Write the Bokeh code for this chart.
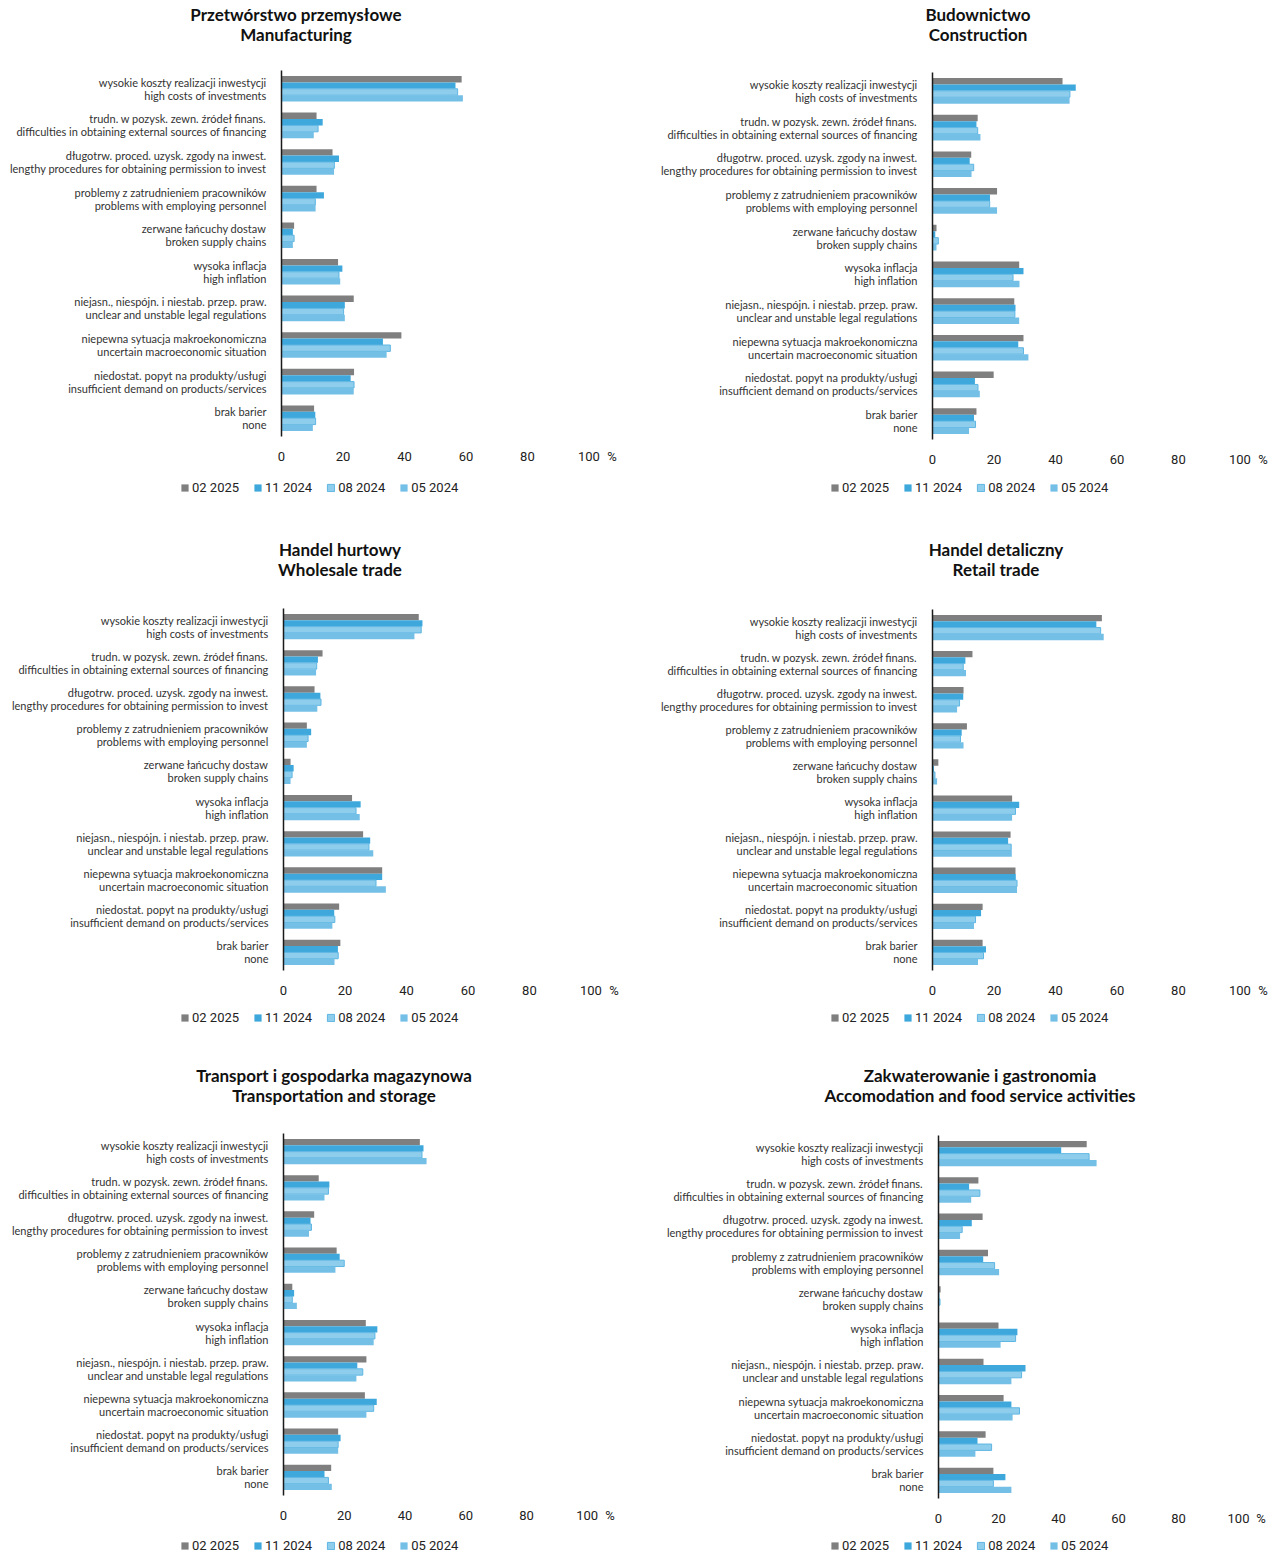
from bokeh.plotting import figure
from bokeh.models import FactorRange, Range1d, Legend, LegendItem, ColumnDataSource, FixedTicker, Div
from bokeh.transform import dodge
from bokeh.layouts import column, row
from bokeh.embed import file_html
from bokeh.resources import INLINE

CATEGORIES = [
    "wysokie koszty realizacji inwestycji\nhigh costs of investments",
    "trudn. w pozysk. zewn. źródeł finans.\ndifficulties in obtaining external sources of financing",
    "długotrw. proced. uzysk. zgody na inwest.\nlengthy procedures for obtaining permission to invest",
    "problemy z zatrudnieniem pracowników\nproblems with employing personnel",
    "zerwane łańcuchy dostaw\nbroken supply chains",
    "wysoka inflacja\nhigh inflation",
    "niejasn., niespójn. i niestab. przep. praw.\nunclear and unstable legal regulations",
    "niepewna sytuacja makroekonomiczna\nuncertain macroeconomic situation",
    "niedostat. popyt na produkty/usługi\ninsufficient demand on products/services",
    "brak barier\nnone",
]
SERIES = ["02 2025", "11 2024", "08 2024", "05 2024"]
X_TICKS = [0, 20, 40, 60, 80, 100, 107.5]
X_TICK_LABELS = {107.5: "%"}

# Manufacturing
MANUF_0225 = [58.6, 11.4, 16.6, 11.4, 4.1, 18.4, 23.5, 39.0, 23.6, 10.6]
MANUF_1124 = [56.6, 13.4, 18.7, 13.8, 3.7, 19.8, 20.6, 33.0, 22.5, 11.0]
MANUF_0824 = [57.3, 11.9, 17.2, 11.0, 4.1, 18.7, 20.2, 35.4, 23.6, 11.1]
MANUF_0524 = [59.0, 10.5, 17.1, 11.1, 3.7, 19.1, 20.6, 34.2, 23.5, 10.2]
# Construction
CONSTR_0225 = [42.3, 14.7, 12.6, 21.0, 1.3, 28.2, 26.6, 29.6, 19.9, 14.3]
CONSTR_1124 = [46.6, 14.3, 12.1, 18.7, 0.9, 29.6, 27.0, 27.9, 13.8, 13.5]
CONSTR_0824 = [44.7, 14.7, 13.4, 18.6, 1.9, 26.2, 26.8, 29.6, 14.8, 14.0]
CONSTR_0524 = [44.6, 15.6, 12.7, 21.0, 1.3, 28.3, 28.2, 31.2, 15.4, 11.9]
# Wholesale trade
WHOLE_0225 = [44.0, 12.7, 10.1, 7.6, 2.3, 22.3, 25.9, 32.1, 18.1, 18.5]
WHOLE_1124 = [45.2, 11.2, 12.0, 9.0, 3.3, 25.1, 28.2, 32.1, 16.5, 17.7]
WHOLE_0824 = [44.8, 10.8, 12.2, 8.0, 2.8, 23.6, 27.8, 30.1, 16.7, 17.8]
WHOLE_0524 = [42.6, 10.6, 11.0, 7.6, 2.3, 24.8, 29.2, 33.3, 15.9, 16.6]
# Retail trade
RETAIL_0225 = [55.1, 13.0, 10.1, 11.2, 1.9, 25.9, 25.4, 27.0, 16.3, 16.3]
RETAIL_1124 = [53.3, 10.7, 10.0, 9.5, 0.5, 28.2, 24.6, 27.1, 15.8, 17.4]
RETAIL_0824 = [54.7, 10.0, 8.8, 9.1, 0.8, 27.0, 25.6, 27.5, 14.0, 16.6]
RETAIL_0524 = [55.7, 10.9, 8.0, 10.1, 1.5, 25.9, 25.8, 27.5, 13.5, 14.8]
# Transportation and storage
TRANS_0225 = [44.9, 11.6, 10.1, 17.5, 2.9, 27.1, 27.3, 26.8, 18.0, 15.7]
TRANS_1124 = [46.1, 15.1, 8.9, 18.5, 3.5, 30.9, 24.3, 30.7, 18.8, 13.5]
TRANS_0824 = [45.6, 14.8, 9.2, 20.0, 2.9, 30.1, 26.1, 29.7, 18.0, 14.8]
TRANS_0524 = [47.1, 13.5, 8.4, 17.1, 4.4, 29.7, 24.0, 27.3, 18.0, 15.9]
# Accommodation and food service
ACCOM_0225 = [49.4, 13.3, 14.7, 16.5, 0.7, 20.0, 15.0, 21.7, 15.7, 18.3]
ACCOM_1124 = [40.9, 10.2, 11.1, 14.9, 0.3, 26.3, 29.0, 24.3, 13.0, 22.3]
ACCOM_0824 = [50.2, 13.8, 7.9, 18.7, 0.5, 25.7, 27.7, 27.0, 17.7, 18.3]
ACCOM_0524 = [52.7, 10.9, 7.2, 20.2, 0.2, 20.7, 24.3, 24.7, 12.3, 24.3]

FILLS = ["#7f7f7f", "#3ea8dc", "#8ecdec", "#74bfe6"]
LINES = [None, None, "#5eb6e3", None]
OFFSETS = [0.2625, 0.0875, -0.0875, -0.2625]
BAR_H = 0.175

LABEL_FONT = "Lato"
NUM_FONT = "Roboto"
TITLE_H = 48
AXIS_SPACE = 30
X_MAX = 108


def panel(t1, t2, series, W, bl, w100, ft, fh, ph, title_center, title_pad, lcy, lx):
    fw = round(w100 * X_MAX / 100)
    shift = title_center - W / 2.0
    pad = ("padding-left:%dpx;" % round(2 * shift)) if shift > 0 else ("padding-right:%dpx;" % round(-2 * shift))
    title = Div(text=("<div style='width:%dpx;box-sizing:border-box;%s padding-top:%dpx;text-align:center;"
                      "font-family:Lato;font-weight:bold;font-size:17px;line-height:20px;"
                      "color:#111;'>%s<br>%s</div>") % (W, pad, title_pad, t1, t2),
                width=W, height=TITLE_H, margin=0)

    main_h = ft + fh + AXIS_SPACE
    p = figure(frame_width=fw, frame_height=fh,
               y_range=FactorRange(factors=CATEGORIES[::-1], range_padding=0),
               x_range=Range1d(0, X_MAX),
               output_backend="svg", toolbar_location=None,
               min_border_left=bl, min_border_right=W - bl - fw,
               min_border_top=ft - TITLE_H, min_border_bottom=AXIS_SPACE)
    p.outline_line_color = None
    p.xgrid.visible = False
    p.ygrid.visible = False

    src = ColumnDataSource(dict(cat=CATEGORIES, s0=series[0], s1=series[1], s2=series[2], s3=series[3]))
    for i, name in enumerate(SERIES):
        p.hbar(y=dodge("cat", OFFSETS[i], range=p.y_range), left=0, right="s%d" % i,
               height=BAR_H, source=src, fill_color=FILLS[i],
               line_color=LINES[i], line_width=1)

    ya = p.yaxis[0]
    ya.axis_line_color = "#1a1a1a"
    ya.axis_line_width = 1.5
    ya.major_tick_line_color = None
    ya.minor_tick_line_color = None
    ya.major_label_text_font = LABEL_FONT
    ya.major_label_text_font_size = "11px"
    ya.major_label_text_color = "#333333"
    ya.major_label_text_line_height = 1.0
    ya.major_label_standoff = 9

    xa = p.xaxis[0]
    xa.ticker = FixedTicker(ticks=X_TICKS)
    xa.major_label_overrides = X_TICK_LABELS
    xa.axis_line_color = None
    xa.major_tick_line_color = None
    xa.minor_tick_line_color = None
    xa.major_label_text_font = NUM_FONT
    xa.major_label_text_font_size = "13px"
    xa.major_label_text_color = "#222222"
    xa.major_label_standoff = 6

    # legend strip: its own small figure whose frame fills it; the legend's
    # renderers hold a single placeholder bar that lies outside the strip's range
    lh = ph - main_h
    lg = figure(frame_width=W, frame_height=lh, x_range=Range1d(0, 1), y_range=Range1d(0, 1),
                output_backend="svg", toolbar_location=None,
                x_axis_location=None, y_axis_location=None,
                min_border_left=0, min_border_right=0, min_border_top=0, min_border_bottom=0)
    lg.outline_line_color = None
    lg.grid.visible = False
    items = []
    for i, name in enumerate(SERIES):
        r = lg.hbar(y=[-5], left=[0], right=[0], height=0.1, fill_color=FILLS[i],
                    line_color=LINES[i], line_width=1)
        items.append(LegendItem(label=name, renderers=[r]))
    leg = Legend(items=items, orientation="horizontal",
                 location=(lx, lh - (lcy - main_h) - 7),
                 label_text_font=NUM_FONT, label_text_font_size="13px", label_text_color="#222222",
                 glyph_width=9, glyph_height=9, label_standoff=3, spacing=14,
                 label_height=14, padding=0, margin=0,
                 border_line_color=None, background_fill_alpha=0)
    lg.add_layout(leg)
    return column(title, p, lg, spacing=0)


p1 = panel("Przetwórstwo przemysłowe", "Manufacturing",
           [MANUF_0225, MANUF_1124, MANUF_0824, MANUF_0524],
           640, 281, 307, 70, 366, 540, 296, 5, 488, 180)
p2 = panel("Budownictwo", "Construction",
           [CONSTR_0225, CONSTR_1124, CONSTR_0824, CONSTR_0524],
           642, 292, 307, 72, 367, 540, 338, 5, 488, 190)
p3 = panel("Handel hurtowy", "Wholesale trade",
           [WHOLE_0225, WHOLE_1124, WHOLE_0824, WHOLE_0524],
           640, 283, 307, 68, 362, 526, 340, 0, 478, 180)
p4 = panel("Handel detaliczny", "Retail trade",
           [RETAIL_0225, RETAIL_1124, RETAIL_0824, RETAIL_0524],
           642, 292, 307, 69, 361, 526, 356, 0, 478, 190)
p5 = panel("Transport i gospodarka magazynowa", "Transportation and storage",
           [TRANS_0225, TRANS_1124, TRANS_0824, TRANS_0524],
           640, 283, 304, 67, 362, 488, 334, 0, 480, 180)
p6 = panel("Zakwaterowanie i gastronomia", "Accomodation and food service activities",
           [ACCOM_0225, ACCOM_1124, ACCOM_0824, ACCOM_0524],
           642, 298, 300, 69, 363, 488, 340, 0, 480, 190)

layout = column(row(p1, p2, spacing=0), row(p3, p4, spacing=0), row(p5, p6, spacing=0), spacing=0)
open("out.html", "w").write(file_html(layout, INLINE))
